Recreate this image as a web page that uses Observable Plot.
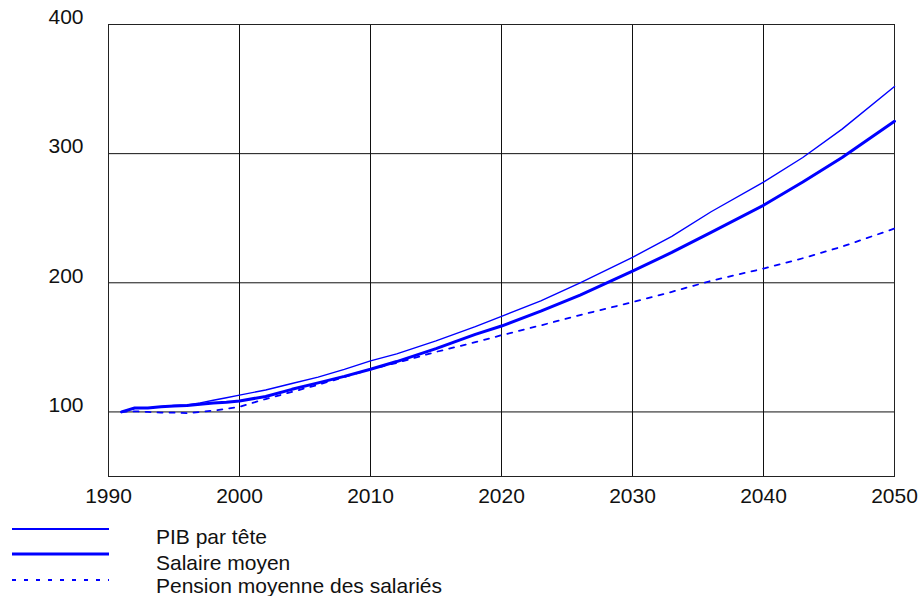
<!DOCTYPE html>
<html>
<head>
<meta charset="utf-8">
<script src="https://cdn.jsdelivr.net/npm/d3@7"></script>
<script src="https://cdn.jsdelivr.net/npm/@observablehq/plot@0.6"></script>
<style>
  html, body { margin: 0; padding: 0; background: #fff; }
  #wrap { position: relative; width: 920px; height: 596px; font-family: "Liberation Sans", Arial, sans-serif; }
  #legend { position: absolute; left: 0; top: 0; width: 920px; height: 596px; pointer-events: none; }
  .row { position: absolute; left: 0; height: 26px; }
  .row svg { position: absolute; left: 12px; top: 0; }
  .row span { position: absolute; left: 156px; font-size: 21px; color: #111; white-space: nowrap; line-height: 1; }
</style>
</head>
<body>
<div id="wrap"><div id="chart"></div><div id="legend"></div></div>
<script>
const years   = [1991,1992,1993,1994,1995,1996,1997,1998,1999,2000,2002,2004,2006,2008,2010,2012,2015,2018,2020,2023,2026,2030,2033,2036,2040,2043,2046,2050];
const pib     = [100,103,103,104,105,105.5,107,109,111,113,117,122,127,133,139.5,145,155,166,174,186,200,219.7,236,255,278,297,319,352];
const salaire = [100,103,103,104,104.5,105,106,107,107.5,108.5,112,117.5,122.5,127.5,133,139,149,160,166.5,178,190.5,209,223.5,239,260,278,297,325];
const pension = [100,100.5,100,99.5,99.5,99,100,101,102.5,104,110,115.5,121,127,133,138,146.5,154,159.4,167,175,185,193,201.5,211,219,228,242];
const xTicks = [1990,2000,2010,2020,2030,2040,2050];
const yTicks = [100,200,300,400];
const seriesNames = ["PIB par tête","Salaire moyen","Pension moyenne des salariés"];

const toRows = (vals) => years.map((y, i) => ({year: y, value: vals[i]}));

const blue = "#0000ff";
const chart = Plot.plot({
  width: 920,
  height: 512,
  marginLeft: 108,
  marginRight: 26,
  marginTop: 24,
  marginBottom: 36,
  style: {fontFamily: "Liberation Sans, Arial, sans-serif", fontSize: "21px", color: "#111", background: "#fff"},
  x: {domain: [1990, 2050]},
  y: {domain: [50, 400]},
  marks: [
    Plot.gridX(xTicks, {stroke: "#111", strokeOpacity: 1}),
    Plot.gridY(yTicks, {stroke: "#111", strokeOpacity: 1}),
    Plot.frame({stroke: "#222"}),
    Plot.axisX(xTicks, {tickSize: 0, tickPadding: 12, tickFormat: d => String(d), label: null, fontSize: 21}),
    Plot.axisY(yTicks, {tickSize: 0, tickPadding: 25, label: null, fontSize: 21, dy: -7}),
    Plot.line(toRows(pension), {x: "year", y: "value", stroke: blue, strokeWidth: 1.8, strokeDasharray: "5,7"}),
    Plot.line(toRows(pib), {x: "year", y: "value", stroke: blue, strokeWidth: 1.4}),
    Plot.line(toRows(salaire), {x: "year", y: "value", stroke: blue, strokeWidth: 3})
  ]
});
document.getElementById("chart").appendChild(chart);

const legendStyles = [
  {w: 2, dash: null, top: 529, dy: 7},
  {w: 3, dash: null, top: 554, dy: 8},
  {w: 2, dash: "4,8", top: 580, dy: 5}
];
const legend = document.getElementById("legend");
seriesNames.forEach((name, i) => {
  const s = legendStyles[i];
  const row = document.createElement("div");
  row.className = "row";
  row.style.top = (s.top - 13) + "px";
  row.innerHTML = `<svg width="100" height="26"><line x1="0" x2="97" y1="13" y2="13" stroke="${blue}" stroke-width="${s.w}" ${s.dash ? `stroke-dasharray="${s.dash}"` : ""}/></svg><span style="top:${13 + s.dy - 10}px">${name}</span>`;
  legend.appendChild(row);
});
</script>
</body>
</html>
